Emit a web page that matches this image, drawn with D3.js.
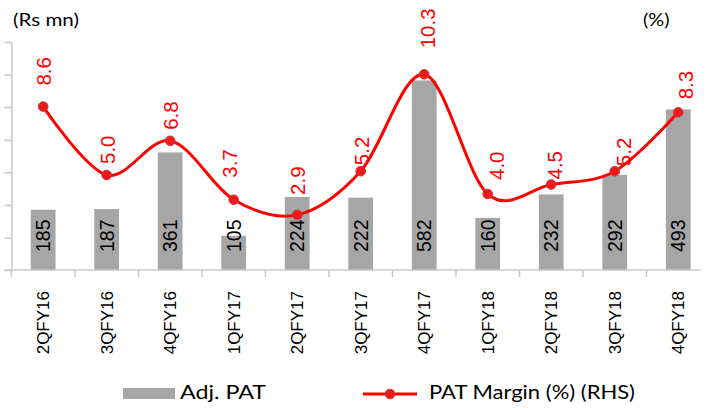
<!DOCTYPE html>
<html>
<head>
<meta charset="utf-8">
<script src="https://cdn.jsdelivr.net/npm/d3@7"></script>
<style>
  html, body { margin: 0; padding: 0; background: #fff; }
  svg { display: block; }
</style>
</head>
<body>
<svg id="chart" width="709" height="408"></svg>
<script>
// Quarterly adjusted PAT (Rs mn) and PAT margin (%)
const quarters = ["2QFY16", "3QFY16", "4QFY16", "1QFY17", "2QFY17", "3QFY17",
                  "4QFY17", "1QFY18", "2QFY18", "3QFY18", "4QFY18"];
const adjPat = [185, 187, 361, 105, 224, 222, 582, 160, 232, 292, 493];
const patMargin = [8.6, 5.0, 6.8, 3.7, 2.9, 5.2, 10.3, 4.0, 4.5, 5.2, 8.3];
const leftTicks = [0, 100, 200, 300, 400, 500, 600, 700];
const seriesNames = ["Adj. PAT", "PAT Margin (%) (RHS)"];
const leftUnit = "(Rs mn)";
const rightUnit = "(%)";

// hand-placed nudges for the margin labels (px): gap above point, sideways shift
const marginLabelGap = [21, 11, 11, 22, 20, 6, 26, 14, 5, 5, 13];
const marginLabelShift = [0, 1, 0, -4, 0, 1, 3, 9, 3, 9, 7];

const svg = d3.select("#chart");
const plot = { left: 11.4, right: 710, top: 42, bottom: 270 };
const axisColor = "#c8c8c8";
const numFont = "'Liberation Sans', Arial, sans-serif";
const textFont = "Lato, 'Noto Sans', sans-serif";

const x = d3.scaleBand()
  .domain(quarters)
  .range([plot.left, plot.right])
  .paddingInner(0.61)
  .paddingOuter(0.305);

const yLeft = d3.scaleLinear().domain([0, 700]).range([plot.bottom, plot.top]);
const yRight = d3.scaleLinear().domain([0, 12]).range([plot.bottom, plot.top]);

// left axis: tick marks only
const gLeft = svg.append("g")
  .attr("transform", `translate(${plot.left},0)`)
  .call(d3.axisLeft(yLeft).tickValues(leftTicks).tickSize(7).tickSizeOuter(0).tickFormat(""));
gLeft.selectAll("path, line").attr("stroke", axisColor).attr("stroke-width", 1.5);

// bars
svg.append("g").selectAll("rect")
  .data(quarters)
  .join("rect")
  .attr("x", (d) => x(d))
  .attr("width", x.bandwidth())
  .attr("y", (d, i) => yLeft(adjPat[i]))
  .attr("height", (d, i) => yLeft(0) - yLeft(adjPat[i]))
  .attr("fill", "#a6a6a6");

// bar value labels, inside base
svg.append("g").selectAll("text")
  .data(quarters)
  .join("text")
  .attr("transform", (d) => `translate(${x(d) + x.bandwidth() / 2},${yLeft(0) - 18}) rotate(-90)`)
  .attr("dy", "0.36em")
  .attr("font-family", numFont)
  .attr("font-size", 19.5)
  .attr("fill", "#000")
  .text((d, i) => adjPat[i]);

// bottom axis: category labels
const gBottom = svg.append("g")
  .attr("transform", `translate(0,${plot.bottom})`)
  .call(d3.axisBottom(x).tickSize(0).tickSizeOuter(0));
gBottom.select(".domain").remove();
gBottom.selectAll("text")
  .attr("font-family", numFont)
  .attr("font-size", 17)
  .attr("fill", "#000")
  .attr("text-anchor", "end")
  .attr("transform", "rotate(-90)")
  .attr("x", -21)
  .attr("y", 0)
  .attr("dy", "0.36em");

// category boundary ticks and baseline
const step = x.step();
const boundaries = quarters.map((q) => x(q) - step * x.paddingOuter());
svg.append("g").selectAll("line")
  .data(boundaries)
  .join("line")
  .attr("x1", (d) => d).attr("x2", (d) => d)
  .attr("y1", plot.bottom).attr("y2", plot.bottom + 7)
  .attr("stroke", axisColor).attr("stroke-width", 1.5);
svg.append("line")
  .attr("x1", plot.left - 7).attr("x2", 701)
  .attr("y1", plot.bottom).attr("y2", plot.bottom)
  .attr("stroke", axisColor).attr("stroke-width", 1.5);

// margin line (smoothed)
const cx = (i) => x(quarters[i]) + x.bandwidth() / 2;
const line = d3.line()
  .x((d, i) => cx(i))
  .y((d) => yRight(d))
  .curve(d3.curveCardinal.tension(0));
svg.append("path")
  .datum(patMargin)
  .attr("d", line)
  .attr("fill", "none")
  .attr("stroke", "#ff0000")
  .attr("stroke-width", 3);

svg.append("g").selectAll("circle")
  .data(patMargin)
  .join("circle")
  .attr("cx", (d, i) => cx(i))
  .attr("cy", (d) => yRight(d))
  .attr("r", 4.8)
  .attr("fill", "#f01818")
  .attr("stroke", "#c43a3a")
  .attr("stroke-width", 1);

svg.append("g").selectAll("text")
  .data(patMargin)
  .join("text")
  .attr("transform", (d, i) =>
    `translate(${cx(i) + marginLabelShift[i]},${yRight(d) - marginLabelGap[i]}) rotate(-90)`)
  .attr("dy", "0.36em")
  .attr("font-family", numFont)
  .attr("font-size", 20.5)
  .attr("fill", "#ff0000")
  .text((d) => d.toFixed(1));

// unit captions
svg.append("text")
  .attr("x", 13).attr("y", 26)
  .attr("font-family", textFont).attr("font-size", 18).attr("fill", "#000")
  .attr("textLength", 66).attr("lengthAdjust", "spacingAndGlyphs")
  .text(leftUnit);
svg.append("text")
  .attr("x", 643).attr("y", 26)
  .attr("font-family", textFont).attr("font-size", 18).attr("fill", "#000")
  .attr("textLength", 26.5).attr("lengthAdjust", "spacingAndGlyphs")
  .text(rightUnit);

// legend
const legend = svg.append("g");
legend.append("rect")
  .attr("x", 123).attr("y", 388).attr("width", 52).attr("height", 11)
  .attr("fill", "#a6a6a6");
legend.append("text")
  .attr("x", 180).attr("y", 399)
  .attr("font-family", textFont).attr("font-size", 19.5).attr("fill", "#000")
  .attr("textLength", 86).attr("lengthAdjust", "spacingAndGlyphs")
  .text(seriesNames[0]);
legend.append("line")
  .attr("x1", 363).attr("x2", 417).attr("y1", 394).attr("y2", 394)
  .attr("stroke", "#ff0000").attr("stroke-width", 3);
legend.append("circle")
  .attr("cx", 390).attr("cy", 394).attr("r", 4.8)
  .attr("fill", "#f01818").attr("stroke", "#c43a3a").attr("stroke-width", 1);
legend.append("text")
  .attr("x", 429).attr("y", 399)
  .attr("font-family", textFont).attr("font-size", 19.5).attr("fill", "#000")
  .attr("textLength", 206).attr("lengthAdjust", "spacingAndGlyphs")
  .text(seriesNames[1]);
</script>
</body>
</html>
